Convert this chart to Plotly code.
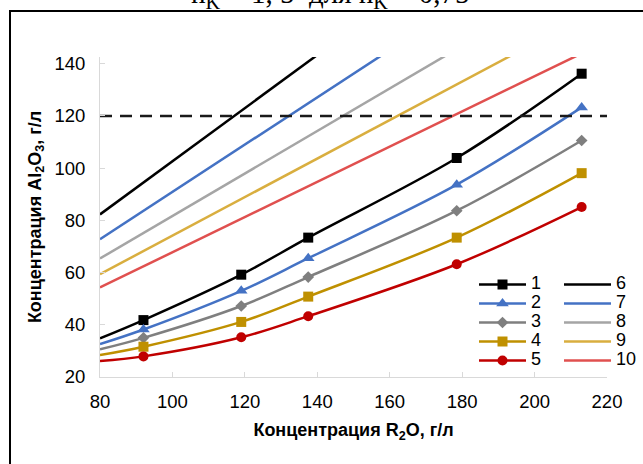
import plotly.graph_objects as go

# ---- data ----
x_meas = [80, 92, 119, 137.5, 178.5, 213]
s1 = [34.8, 41.8, 59.2, 73.4, 103.9, 136.2]
s2 = [32.6, 38.2, 53.0, 65.5, 93.7, 123.3]
s3 = [30.6, 35.0, 47.2, 58.3, 83.7, 110.6]
s4 = [28.4, 31.6, 41.1, 50.8, 73.4, 98.1]
s5 = [26.1, 27.9, 35.2, 43.3, 63.2, 85.1]

x_line = [80, 220]
s6 = [82.3, 224.8]
s7 = [72.8, 199.6]
s8 = [65.4, 179.4]
s9 = [59.4, 162.7]
s10 = [54.3, 148.7]

limit_x = [80, 220]
limit_y = [120, 120]

names_a = ["1", "2", "3", "4", "5"]
names_b = ["6", "7", "8", "9", "10"]
x_ticks = [80, 100, 120, 140, 160, 180, 200, 220]
y_ticks = [20, 40, 60, 80, 100, 120, 140]

# ---- layout geometry (pixels) ----
W, H = 643, 464
L, R, T, B = 100, 607, 57, 377
PW, PH = R - L, B - T


def px(xp):
    return (xp - L) / PW


def py(yp):
    return (B - yp) / PH


FONT = "Liberation Sans"
fig = go.Figure()

meas_series = [s1, s2, s3, s4, s5]
meas_colors = ["#000000", "#4472C4", "#7F7F7F", "#BF9000", "#C00000"]
meas_symbols = ["square", "triangle-up", "diamond", "square", "circle"]
meas_sizes = [10, 11, 9, 10, 10]

line_series = [s6, s7, s8, s9, s10]
line_colors = ["#000000", "#4472C4", "#A5A5A5", "#D9AE3F", "#E0504F"]

for ys, c, nm in zip(line_series, line_colors, names_b):
    fig.add_trace(go.Scatter(
        x=x_line, y=ys, mode="lines", name=f"<span style='font-size:18px'>{nm}</span>",
        line=dict(color=c, width=2.5), legend="legend2"))

for ys, c, sym, sz, nm in zip(meas_series, meas_colors, meas_symbols, meas_sizes, names_a):
    fig.add_trace(go.Scatter(
        x=x_meas, y=ys, mode="lines+markers", name=f"<span style='font-size:18px'>{nm}</span>",
        line=dict(color=c, width=2.5, shape="spline", smoothing=1),
        marker=dict(color=c, symbol=sym, size=sz, line=dict(width=0)),
        selectedpoints=list(range(1, len(x_meas))),
        selected=dict(marker=dict(opacity=1)),
        unselected=dict(marker=dict(opacity=0)),
        legend="legend"))

fig.add_trace(go.Scatter(
    x=limit_x, y=limit_y, mode="lines", showlegend=False,
    line=dict(color="#1a1a1a", width=2.5, dash="12px,8px")))

axis_common = dict(
    showgrid=False, zeroline=False, showline=True, linecolor="#D9D9D9", linewidth=1,
    ticks="inside", ticklen=5, tickcolor="#D9D9D9", tickwidth=1,
    tickfont=dict(family=FONT, size=18.5, color="#000000"),
)

fig.update_layout(
    width=W, height=H,
    margin=dict(l=L, r=W - R, t=T, b=H - B, autoexpand=False),
    paper_bgcolor="white", plot_bgcolor="white",
    xaxis=dict(range=[80, 220], tickvals=x_ticks, ticklabelstandoff=8,
               title=dict(text="<b>Концентрация R<sub>2</sub>O, г/л</b>", standoff=12,
                          font=dict(family=FONT, size=18, color="#000000")),
               **axis_common),
    yaxis=dict(range=[20, 142.6], tickvals=y_ticks, ticklabelstandoff=10,
               title=dict(text="<b>Концентрация Al<sub>2</sub>O<sub>3</sub>, г/л</b>", standoff=8,
                          font=dict(family=FONT, size=18, color="#000000")),
               **axis_common),
    legend=dict(x=px(474), y=py(270), xanchor="left", yanchor="top",
                font=dict(family=FONT, size=12, color="#000000"),
                bgcolor="rgba(0,0,0,0)", itemwidth=47, traceorder="normal"),
    legend2=dict(x=px(559), y=py(270), xanchor="left", yanchor="top",
                 font=dict(family=FONT, size=12, color="#000000"),
                 bgcolor="rgba(0,0,0,0)", itemwidth=47, traceorder="normal"),
    showlegend=True,
)

# outer frame
fig.add_shape(type="rect", xref="paper", yref="paper",
              x0=px(10), x1=px(660), y0=py(480), y1=py(11),
              line=dict(color="#000000", width=2), fillcolor="rgba(0,0,0,0)", layer="above")

# cut-off caption fragment at the top
fig.add_annotation(xref="paper", yref="paper", x=px(330), y=py(-5.5), xanchor="center", yanchor="middle",
                   text="n<sub>K</sub> = 1, 5  для n<sub>K</sub> = 0,75", showarrow=False,
                   font=dict(family="Liberation Serif", size=29, color="#000000"))

fig.write_html("out.html")
